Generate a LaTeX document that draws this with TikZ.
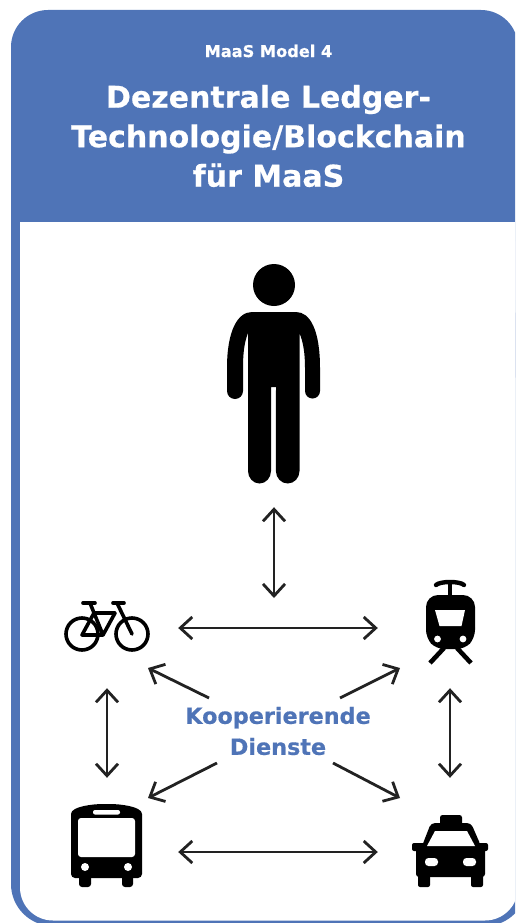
\documentclass[tikz,border=0pt]{standalone}
\usepackage{fontspec}
\setmainfont{DejaVu Sans}[BoldFeatures={FakeBold=0.5}]
\usepackage{xcolor}
\usetikzlibrary{arrows.meta}
\definecolor{maasblue}{HTML}{4F74B7}
\definecolor{arrowgray}{HTML}{222222}

\begin{document}
\begin{tikzpicture}[
    x=1pt, y=-1pt,
    spot/.style={minimum width=#1, inner sep=0pt},
    arr/.style={{Straight Barb[length=12pt,width=22pt]}-{Straight Barb[length=12pt,width=22pt]},
                line width=2.8pt, draw=arrowgray},
    onearr/.style={-{Straight Barb[length=12pt,width=22pt]}, line width=2.8pt, draw=arrowgray},
    titletext/.style={text=white, align=center, font=\bfseries#1},
    blacklin/.style={draw=black, line width=#1, line cap=round, line join=round}
]
\useasboundingbox (0,0) rectangle (515,923);
\clip (0,0) rectangle (515,923);

%% FRAME
\fill[maasblue, rounded corners=37pt] (11,10) rectangle (518,400);
\fill[maasblue, rounded corners=42pt] (11,300) rectangle (527,926);
\fill[white, rounded corners=33pt] (20,222) rectangle (518,920.5);
\fill[white] (20,222) rectangle (518,300);

%% HEADER
\node[titletext=\fontsize{16.2}{20}\selectfont] (model) at (268.5,51) {MaaS Model 4};
\node[titletext=\fontsize{30}{39.5}\selectfont] (title) at (268.5,136)
    {Dezentrale Ledger-\\Technologie/Blockchain\\für MaaS};

%% PERSON
\fill[black] (274,285) circle (21);
\fill[black] (252,312) -- (296,312)
    .. controls (310,312) and (320,330) .. (320,368) -- (320,391)
    arc (0:180:7.5) -- (305,368) .. controls (305,352) and (303,342) .. (299.5,333)
    -- (299.5,471) arc (0:180:11.8 and 12.5) -- (276,387) -- (271,387) -- (271,471)
    arc (0:180:11.5 and 12.5) -- (248,333)
    .. controls (244.5,342) and (243,352) .. (243,368) -- (243,391)
    arc (0:180:8) -- (227,368)
    .. controls (227,330) and (238,312) .. (252,312) -- cycle;
\node[spot=60pt, minimum height=222pt] (person) at (274,396) {};

%% BIKE
\draw[blacklin=3.6pt] (82,634) circle (16) (132,634) circle (16);
\draw[blacklin=3.6pt] (83,603) -- (95,603) (113,603) -- (124,603);
\draw[blacklin=3.6pt] (90,603) -- (103,635) -- (82,635) -- (94,613) -- (115,613)
    (115,613) -- (103,635) (117,603) -- (132,634);
\node[spot=142pt, minimum height=120pt] (bike) at (107,628) {};

%% TRAM
\draw[blacklin=4.4pt] (436,585) .. controls (440,581) and (460,581) .. (464,585);
\draw[black, line width=4pt] (450,582) -- (450,597);
\fill[black, rounded corners=12pt] (426,595) rectangle (475,640);
\fill[black, rounded corners=8pt] (426,620) -- (475,620) -- (475,638) -- (465,649) -- (436,649) -- (426,638) -- cycle;
\fill[white] (435,610) -- (465,610) -- (461.5,626) -- (439.5,626) -- cycle;
\fill[white] (437.5,639) circle (3.4) (463,639) circle (3.4);
\draw[black, line width=4.6pt] (444,648) -- (430,663) (457,648) -- (471,663);
\node[spot=144pt, minimum height=120pt] (tram) at (450,628) {};

%% BUS
\fill[black, rounded corners=4pt] (71,818) .. controls (71,806) and (95,804) .. (106.5,804)
    .. controls (118,804) and (142,806) .. (142,818) -- (142,878) -- (71,878) -- cycle;
\fill[black, rounded corners=3pt] (79,870) rectangle (91,887) (122,870) rectangle (133,887);
\fill[white, rounded corners=3pt] (78,818) rectangle (135,857);
\fill[white, rounded corners=2pt] (93,810) rectangle (120,814.5);
\fill[white] (85,867) circle (4) (128,867) circle (4);
\node[spot=142pt, minimum height=148pt] (bus) at (107,852) {};

%% TAXI
\fill[black, rounded corners=2.5pt] (440,815) rectangle (462,826);
\fill[black, rounded corners=4pt] (422,846) -- (431,823) -- (471,823) -- (481,846) -- cycle;
\fill[black, rounded corners=3pt] (416,845) rectangle (485,877);
\fill[black, rounded corners=2pt] (412,843) rectangle (488,851);
\fill[black, rounded corners=2pt] (418,870) rectangle (430,887) (471,870) rectangle (483,887);
\fill[white] (435,831) -- (467,831) -- (475,846) -- (427,846) -- cycle;
\fill[white, rounded corners=3.5pt] (425,858) rectangle (438,866) (463,858) rectangle (476,866);
\node[spot=144pt, minimum height=148pt] (taxi) at (450,852) {};

%% CENTRE TEXT
\node[text=maasblue, align=center, font=\bfseries\fontsize{22.3}{31}\selectfont] (dienste) at (278,731)
    {Kooperierende\\Dienste};

%% ARROW ENDS
\coordinate (personend) at (274,598);
\coordinate (tlstart) at (209,698);
\coordinate (tlend) at (148,668);
\coordinate (trstart) at (340,698);
\coordinate (trend) at (400,668);
\coordinate (blstart) at (217,763);
\coordinate (blend) at (148,798);
\coordinate (brstart) at (333,763);
\coordinate (brend) at (400,798);

%% ARROWS: person and services
\draw[arr] (person.south) -- (personend);
\draw[arr] (bike.east) -- (tram.west);
\draw[arr] (bus.east) -- (taxi.west);
\draw[arr] (bike.south) -- (bus.north);
\draw[arr] (tram.south) -- (taxi.north);

%% ARROWS: out of the centre
\draw[onearr] (tlstart) -- (tlend);
\draw[onearr] (trstart) -- (trend);
\draw[onearr] (blstart) -- (blend);
\draw[onearr] (brstart) -- (brend);

\end{tikzpicture}
\end{document}
